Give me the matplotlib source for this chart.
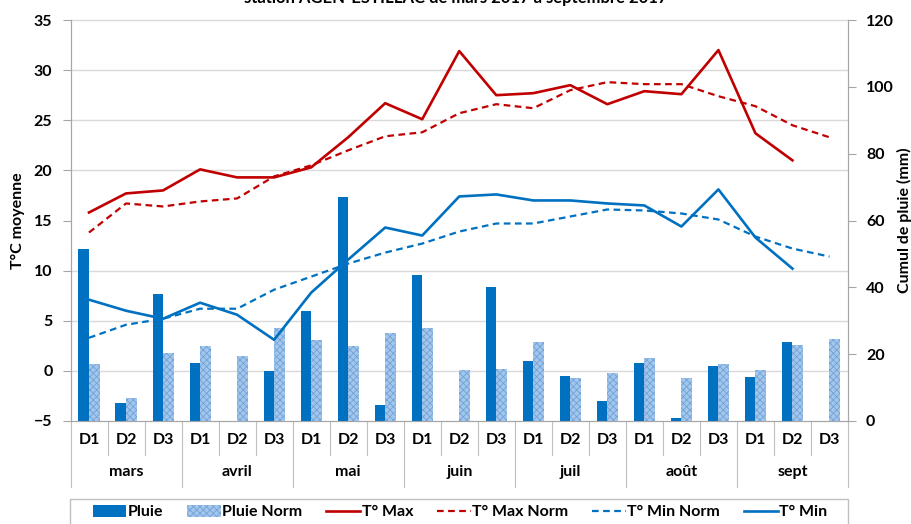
import numpy as np
import matplotlib
matplotlib.use("Agg")
import matplotlib.pyplot as plt
import matplotlib.transforms as mtransforms
from matplotlib.patches import Rectangle

plt.rcParams['font.family'] = ['Lato', 'DejaVu Sans']
plt.rcParams['font.weight'] = 'bold'
plt.rcParams['hatch.linewidth'] = 0.6

# données décadaires, station AGEN-ESTILLAC 2017
mois = ["mars", "avril", "mai", "juin", "juil", "août", "sept"]
decades = ["D1", "D2", "D3"]

pluie = [51.6, 5.3, 38.1, 17.4, 0.0, 14.9, 32.8, 67.1, 4.8, 43.6, 0.0,
         40.1, 17.9, 13.6, 6.0, 17.4, 0.8, 16.5, 13.3, 23.6, 0.0]
pluie_norm = [17.0, 6.9, 20.2, 22.3, 19.5, 27.7, 24.3, 22.3, 26.4, 27.7, 15.4,
              15.6, 23.6, 12.9, 14.5, 18.9, 12.9, 17.2, 15.4, 22.7, 24.5]
t_max = [15.8, 17.7, 18.0, 20.1, 19.3, 19.3, 20.3, 23.3, 26.7, 25.1, 31.9,
         27.5, 27.7, 28.5, 26.6, 27.9, 27.6, 32.0, 23.7, 21.0, np.nan]
t_max_norm = [13.8, 16.7, 16.4, 16.9, 17.2, 19.4, 20.5, 22.0, 23.4, 23.8, 25.7,
              26.6, 26.2, 28.0, 28.8, 28.6, 28.6, 27.4, 26.4, 24.5, 23.3]
t_min = [7.1, 6.0, 5.2, 6.8, 5.6, 3.1, 7.8, 11.1, 14.3, 13.5, 17.4,
         17.6, 17.0, 17.0, 16.7, 16.5, 14.4, 18.1, 13.3, 10.2, np.nan]
t_min_norm = [3.3, 4.6, 5.2, 6.2, 6.2, 8.1, 9.4, 10.7, 11.8, 12.7, 13.9,
              14.7, 14.7, 15.4, 16.1, 16.0, 15.7, 15.1, 13.4, 12.2, 11.4]

BLEU = '#0070C0'
BLEU_CLAIR = '#A4C6EA'
ROUGE = '#C00000'
GRIS = '#A6A6A6'
FS = 11.5

fig = plt.figure(figsize=(9.11, 5.24), dpi=100)
fig.patch.set_facecolor('white')
ax = fig.add_axes([70.5 / 911, 1 - 421 / 524, 777.5 / 911, 401 / 524])
ax2 = ax.twinx()
ax.set_zorder(ax2.get_zorder() + 1)
ax.patch.set_visible(False)

x = np.arange(len(pluie))
w = 0.285

# pluie sur l'axe de droite
ax2.bar(x - w / 2, pluie, width=w, color=BLEU, zorder=3, label='Pluie')
ax2.bar(x + w / 2, pluie_norm, width=w, color=BLEU_CLAIR, edgecolor='#6FA3DB',
        hatch='xxxxx', linewidth=0, zorder=3, label='Pluie Norm')
ax2.set_ylim(0, 120)
ax2.set_yticks(np.arange(0, 121, 20))
ax2.set_yticks(np.arange(0, 121, 15), minor=True)
ax2.tick_params(axis='y', which='minor', length=0)
ax2.grid(True, which='minor', axis='y', color='#D9D9D9', linewidth=1)
ax2.set_axisbelow(True)
ax2.tick_params(axis='y', which='major', labelsize=FS, length=6, color=GRIS, pad=7)
ax2.set_ylabel("Cumul de pluie (mm)", fontsize=FS, fontweight='bold', labelpad=2)

# températures sur l'axe de gauche
ls = (0, (3, 2))
l1, = ax.plot(x, t_max, color=ROUGE, lw=1.9, label='T° Max')
l2, = ax.plot(x, t_max_norm, color=ROUGE, lw=1.6, linestyle=ls, label='T° Max Norm')
l3, = ax.plot(x, t_min_norm, color=BLEU, lw=1.6, linestyle=ls, label='T° Min Norm')
l4, = ax.plot(x, t_min, color=BLEU, lw=1.9, label='T° Min')
ax.set_ylim(-5, 35)
ax.set_yticks(np.arange(-5, 36, 5))
ax.tick_params(axis='y', labelsize=FS, length=6, color=GRIS, pad=7)
ax.set_ylabel("T°C moyenne", fontsize=FS, fontweight='bold', labelpad=6)
ax.set_xlim(-0.5, len(pluie) - 0.5)
ax.set_xticks([])
ax2.set_xticks([])

for a in (ax, ax2):
    a.spines['top'].set_visible(False)
    for s in ('left', 'right', 'bottom'):
        a.spines[s].set_color(GRIS)
ax.axhline(35, color='#D9D9D9', lw=1, zorder=0, clip_on=False)

# axe des x à deux niveaux (décades / mois)
trans = mtransforms.blended_transform_factory(ax.transData, ax.transAxes)
for b in range(len(pluie) + 1):
    bas = -0.165 if b % 3 == 0 else -0.085
    ax.plot([b - 0.5, b - 0.5], [0, bas], transform=trans, color='#BFBFBF',
            lw=0.8, clip_on=False)
for i in x:
    ax.text(i, -0.047, decades[i % 3], transform=trans, ha='center', va='center',
            fontsize=FS, fontweight='bold')
for m, nom in enumerate(mois):
    ax.text(3 * m + 1, -0.127, nom, transform=trans, ha='center', va='center',
            fontsize=FS, fontweight='bold')

# titre coupé en haut
fig.text(0.5, 1.004, "station AGEN-ESTILLAC de mars 2017 à septembre 2017",
         ha='center', va='center', fontsize=12, fontweight='bold')

# légende
handles, labels = ax2.get_legend_handles_labels()
handles += [l1, l2, l3, l4]
labels += [h.get_label() for h in (l1, l2, l3, l4)]
fig.patches.append(Rectangle((70 / 911, -0.05), 778 / 911, 0.05 + 1 - 499 / 524,
                             transform=fig.transFigure, fill=False,
                             edgecolor='#BFBFBF', lw=1))
fig.legend(handles, labels, loc='center', bbox_to_anchor=(460 / 911, 1 - 512 / 524),
           ncol=6, frameon=False, fontsize=FS, handlelength=2.1, handletextpad=0.1,
           columnspacing=1.5, handleheight=0.8)

fig.savefig("out.png", dpi=100)
